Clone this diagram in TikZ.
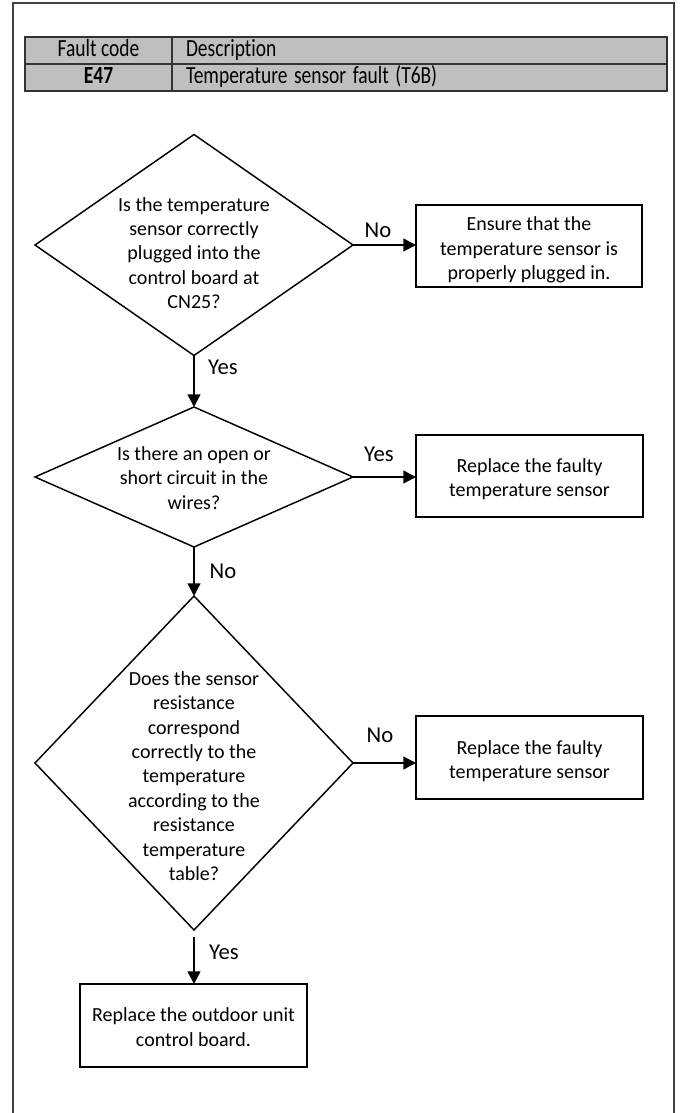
\documentclass[tikz,border=0pt]{standalone}
\usepackage{fontspec}
\setmainfont{Carlito}[Ligatures=NoCommon]
\usetikzlibrary{shapes.geometric,arrows.meta}
\newcommand{\tabtxt}[1]{\scalebox{0.79}[1]{#1}}
\tikzset{
  dia/.style={shape=diamond, draw, line width=1.1pt, inner sep=0pt, outer sep=0pt},
  boxn/.style={draw, line width=1.3pt, inner sep=0pt, outer sep=0pt},
  txt/.style={align=center, inner sep=0pt, font=\fontsize{15pt}{18.3pt}\selectfont},
  lbl/.style={inner sep=0pt, font=\fontsize{17pt}{20pt}\selectfont},
  flow/.style={line width=1.8pt, -{Triangle[length=9.5pt,width=9.5pt]}},
  frame/.style={draw=black!75, line width=1.2pt},
  cell/.style={draw=black!80, fill=black!25, line width=0.9pt, inner ysep=0pt,
    minimum height={27*0.75pt}, text height=12pt, text depth=3.5pt,
    font=\fontsize{18.5pt}{21pt}\selectfont},
}
\begin{document}
\begin{tikzpicture}[x=0.75pt,y=-0.75pt]
\useasboundingbox (0,0) rectangle (683,1113);
% outer frame (open at the bottom)
\coordinate (fbl) at (12.7,1116);
\coordinate (ftl) at (12.7,3);
\coordinate (ftr) at (674,3);
\coordinate (fbr) at (674,1116);
\draw[frame] (fbl) -- (ftl) -- (ftr) -- (fbr);
% table
\node[cell, minimum width={147*0.75pt}, inner xsep=0pt] (c11) at (98.5,50.5) {\tabtxt{Fault code}};
\node[cell, text width={467*0.75pt}, inner xsep={14*0.75pt}, align=left] (c12) at (419.5,50.5) {\tabtxt{Description}};
\node[cell, minimum width={147*0.75pt}, inner xsep=0pt] (c21) at (98.5,77.5) {\tabtxt{\bfseries E47}};
\node[cell, text width={467*0.75pt}, inner xsep={14*0.75pt}, align=left] (c22) at (419.5,77.5) {\tabtxt{Temperature sensor fault (T6B)}};
% decisions
\node[dia, minimum width={318*0.75pt}, minimum height={221*0.75pt}] (d1) at (194,245) {};
\node[txt] (t1) at (194,253) {Is the temperature\\sensor correctly\\plugged into the\\control board at\\CN25?};
\node[dia, minimum width={318*0.75pt}, minimum height={140*0.75pt}] (d2) at (194,477) {};
\node[txt] (t2) at (194,478) {Is there an open or\\short circuit in the\\wires?};
\node[dia, minimum width={318*0.75pt}, minimum height={334*0.75pt}] (d3) at (194,763) {};
\node[txt] (t3) at (194,776) {Does the sensor\\resistance\\correspond\\correctly to the\\temperature\\according to the\\resistance\\temperature\\table?};
% actions
\node[boxn, minimum width={226*0.75pt}, minimum height={82*0.75pt}] (b1) at (529,246) {};
\node[txt] (tb1) at (529,250) {Ensure that the\\temperature sensor is\\properly plugged in.};
\node[boxn, minimum width={227*0.75pt}, minimum height={82*0.75pt}] (b2) at (529.5,476) {};
\node[txt] (tb2) at (529.5,479) {Replace the faulty\\temperature sensor};
\node[boxn, minimum width={227*0.75pt}, minimum height={83*0.75pt}] (b3) at (529.5,757.5) {};
\node[txt] (tb3) at (529.5,761) {Replace the faulty\\temperature sensor};
\node[boxn, minimum width={227*0.75pt}, minimum height={83*0.75pt}] (b4) at (193.5,1025.5) {};
\node[txt] (tb4) at (193.5,1027) {Replace the outdoor unit\\control board.};
% connectors
\draw[flow] (d1.east) -- (d1.east -| b1.west);
\draw[flow] (d1.south) -- (d2.north);
\draw[flow] (d2.east) -- (d2.east -| b2.west);
\draw[flow] (d2.south) -- (d3.north);
\draw[flow] (d3.east) -- (d3.east -| b3.west);
\draw[flow, shorten <={7*0.75pt}] (d3.south) -- (d3.south |- b4.north);
% labels
\node[lbl] (l1) at (378,230) {No};
\node[lbl] (l2) at (223,367) {Yes};
\node[lbl] (l3) at (379,454) {Yes};
\node[lbl] (l4) at (223,571) {No};
\node[lbl] (l5) at (380,735) {No};
\node[lbl] (l6) at (224,952) {Yes};
\end{tikzpicture}
\end{document}
